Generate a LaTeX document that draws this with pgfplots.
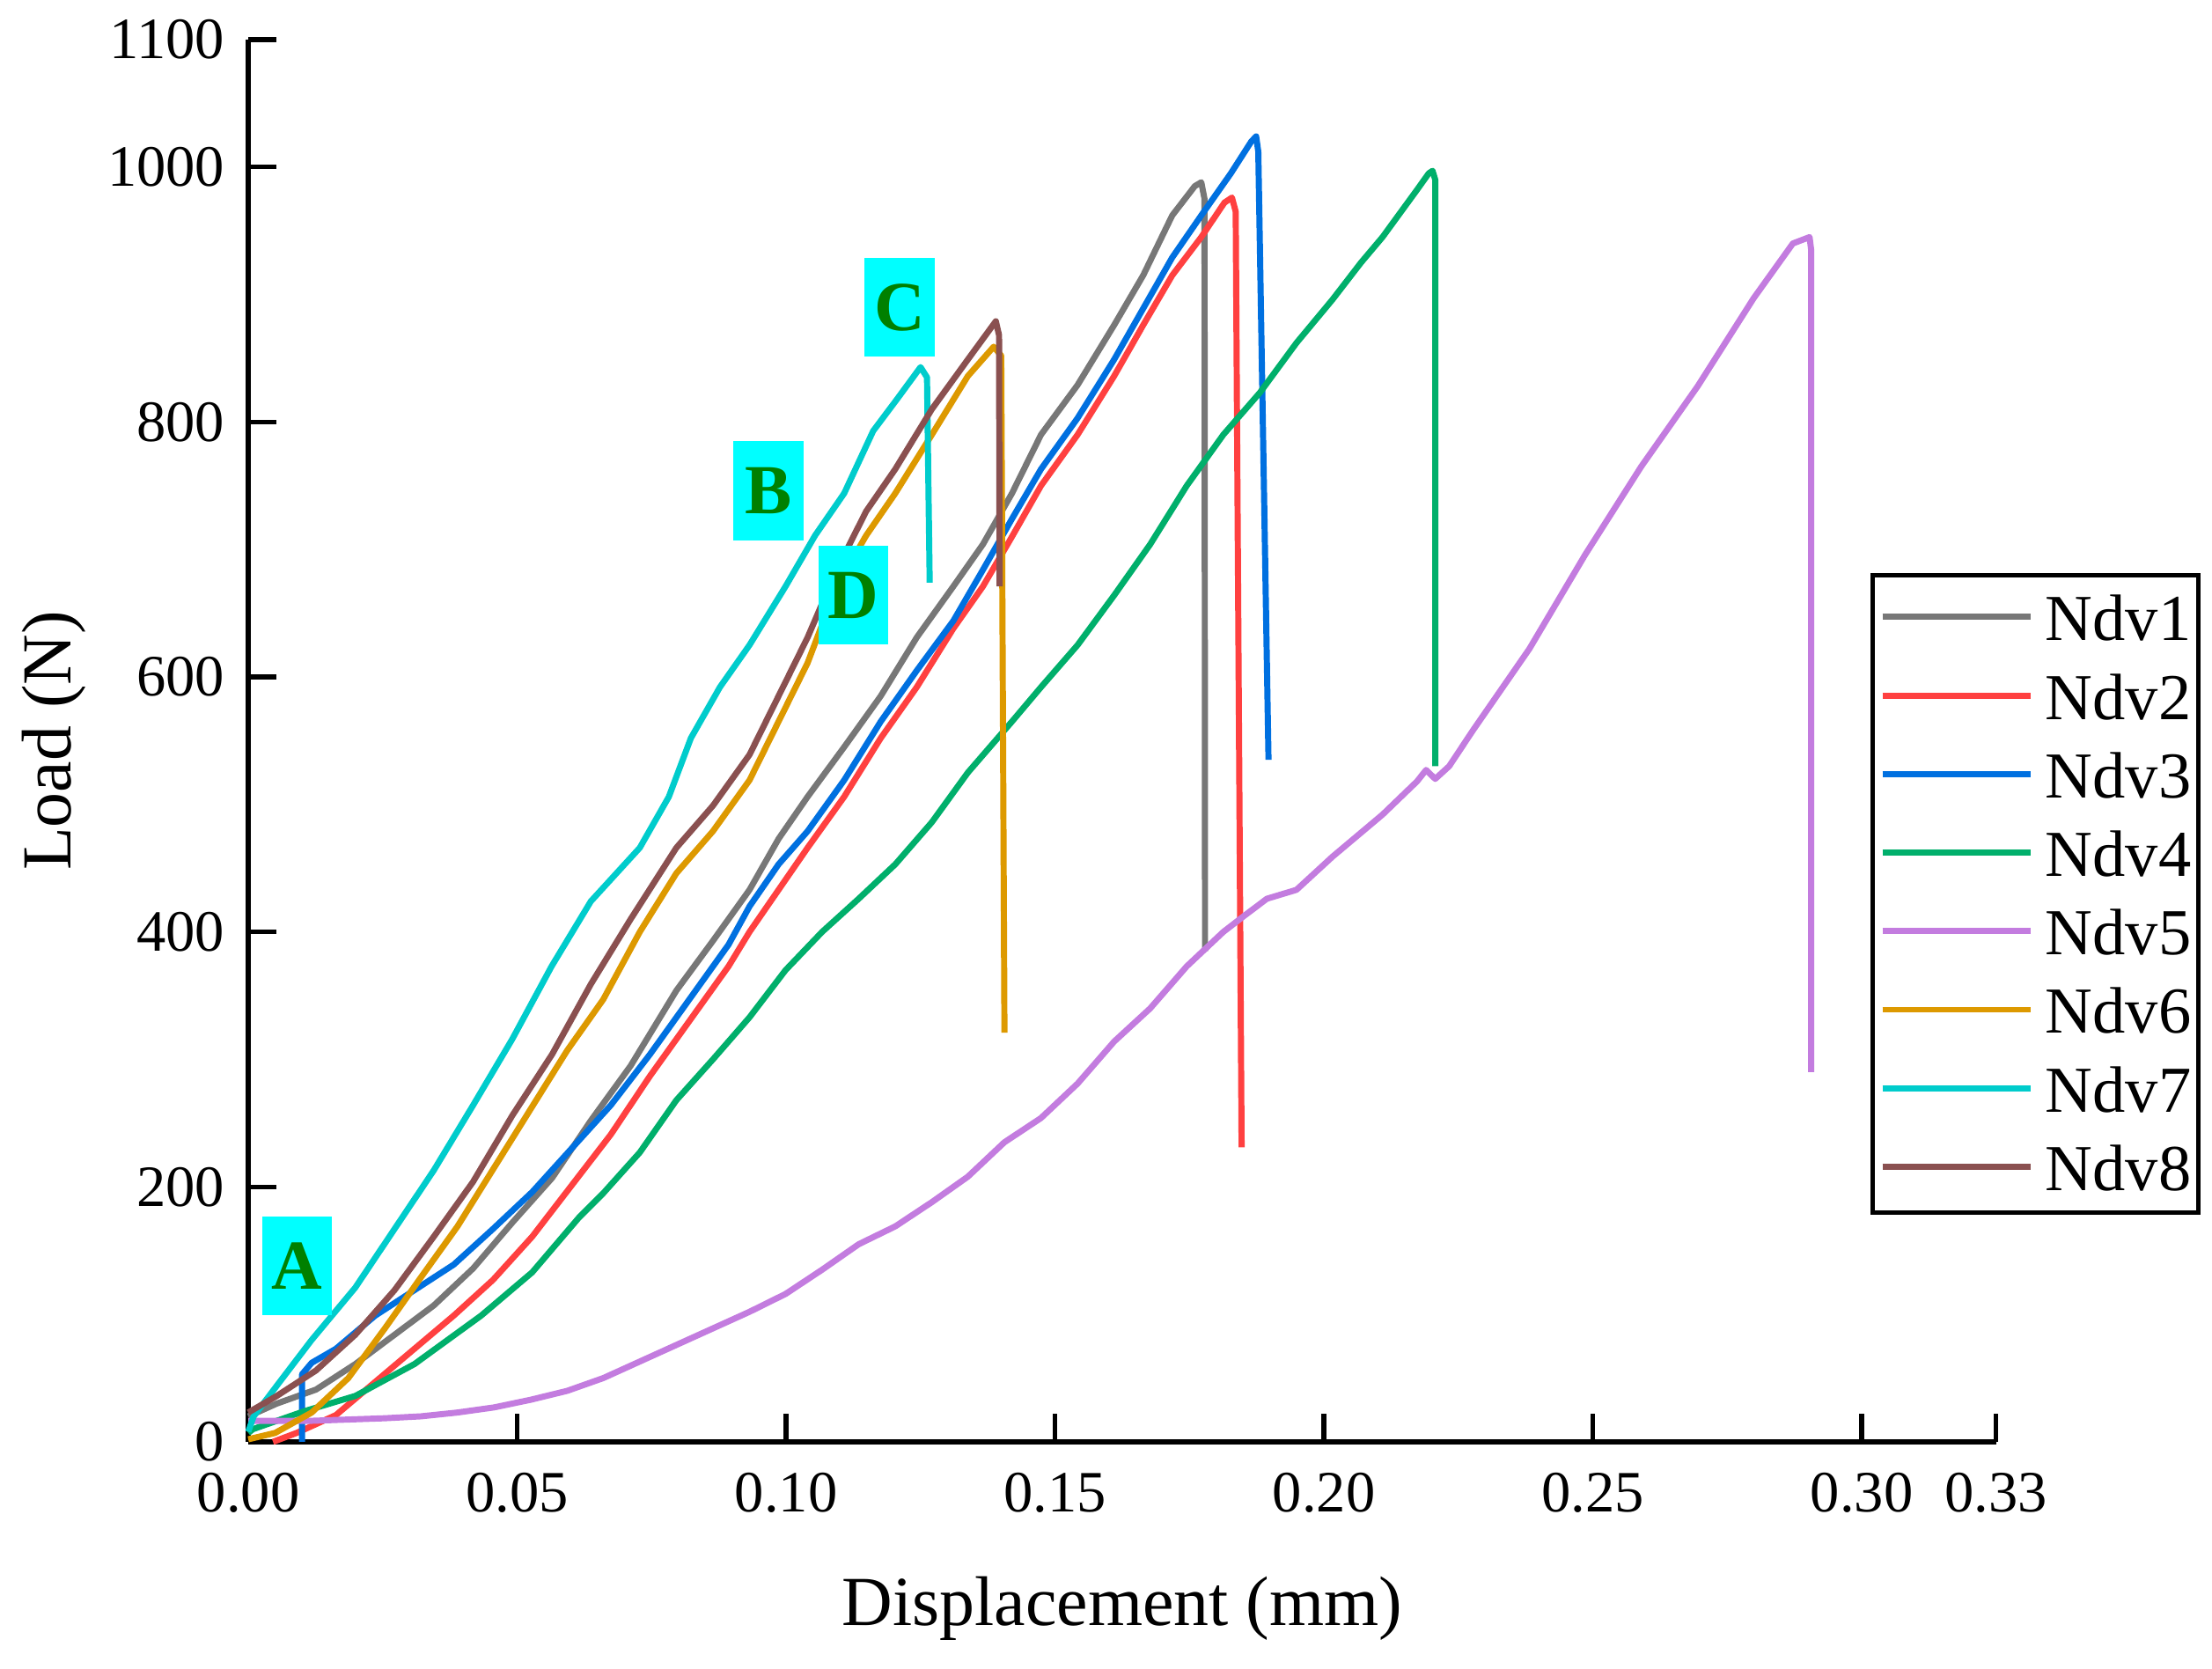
\documentclass[border=0pt]{standalone}
\usepackage{fontspec}
\setmainfont{Liberation Serif}
\usepackage{pgfplots}
\pgfplotsset{compat=1.18}
\definecolor{cgray}{HTML}{777777}
\definecolor{cred}{HTML}{FF4040}
\definecolor{cblue}{HTML}{0070E0}
\definecolor{cgreen}{HTML}{00AF6B}
\definecolor{cpurple}{HTML}{C37CDF}
\definecolor{corange}{HTML}{DD9900}
\definecolor{ccyan}{HTML}{00CCCC}
\definecolor{cbrown}{HTML}{8A5050}
\definecolor{boxcyan}{HTML}{00FFFF}
\definecolor{txtgreen}{HTML}{008000}
\begin{document}
\begin{tikzpicture}
\useasboundingbox (-52.8bp,-48.3bp) rectangle (417.6bp,306.6bp);
\begin{axis}[
  at={(0,0)}, anchor=south west,
  scale only axis, width=371.7bp, height=298.2bp,
  xmin=0, xmax=0.325, ymin=0, ymax=1100,
  axis x line=bottom, axis y line=left,
  axis line style={-, line width=1bp, black},
  tick align=inside, major tick length=6bp,
  tick style={line width=1bp, black},
  xtick={0,0.05,0.1,0.15,0.2,0.25,0.3,0.325},
  xticklabels={0.00,0.05,0.10,0.15,0.20,0.25,0.30,0.33},
  ytick={0,200,400,600,800,1000,1100},
  yticklabels={0,200,400,600,800,1000,1100},
  minor tick num=0,
  ticklabel style={font=\fontsize{12.5}{12.5}\selectfont},
  xticklabel style={yshift=-3bp},
  yticklabel style={xshift=-1.5bp},
  xlabel={Displacement (mm)},
  ylabel={Load (N)},
  x label style={at={(axis description cs:0.5,-0.119)}, anchor=center, font=\fontsize{15}{15}\selectfont},
  y label style={at={(axis description cs:-0.111,0.5)}, anchor=center, font=\fontsize{15}{15}\selectfont},
  every axis plot/.append style={line width=1.3bp, line join=round},
  legend cell align=left,
  legend style={
    at={(axis description cs:0.928,0.6197)}, anchor=north west,
    draw=black, line width=0.9bp, fill=white,
    inner xsep=1.5bp, inner ysep=1bp,
    font=\fontsize{14}{14}\selectfont,
    row sep=0pt, column sep=2.5bp,
    nodes={inner sep=0pt, text height=13bp, text depth=3.7bp},
  },
  legend image code/.code={\draw[#1, line width=1.3bp] (0bp,0.4bp) -- (31.5bp,0.4bp);},
  clip=false,
]
% Ndv1
\addplot[cgray] coordinates {
(0,20) (0.0053,30) (0.0126,41) (0.0199,61) (0.0272,84) (0.0345,107) (0.0418,136)
(0.0491,172) (0.0565,207) (0.0637,252) (0.0711,295) (0.0796,354) (0.0864,393)
(0.0932,433) (0.0986,473) (0.1040,506) (0.1108,545) (0.1176,585) (0.1243,631)
(0.1311,671) (0.1366,704) (0.1420,744) (0.1474,790) (0.1542,829) (0.1610,876)
(0.1664,915) (0.1718,962) (0.1760,985) (0.1772,988) (0.1778,975) (0.1779,385)
};
\addlegendentry{Ndv1}
% Ndv2
\addplot[cred] coordinates {
(0.0046,0) (0.0090,7) (0.0163,21) (0.0236,47) (0.0309,73) (0.0382,99) (0.0455,127)
(0.0528,161) (0.0601,201) (0.0674,241) (0.0747,287) (0.0820,330) (0.0893,373)
(0.0932,400) (0.0986,433) (0.1040,466) (0.1108,506) (0.1176,552) (0.1243,592)
(0.1311,638) (0.1366,671) (0.1420,710) (0.1474,750) (0.1542,790) (0.1610,836)
(0.1664,876) (0.1718,915) (0.1772,945) (0.1815,972) (0.1829,976) (0.1836,965) (0.1847,231)
};
\addlegendentry{Ndv2}
% Ndv3
\addplot[cblue] coordinates {
(0.0100,0) (0.0100,53) (0.0118,62) (0.0163,73) (0.0236,99) (0.0309,119) (0.0382,139)
(0.0455,167) (0.0528,196) (0.0601,230) (0.0674,264) (0.0747,304) (0.0820,347)
(0.0893,390) (0.0932,420) (0.0986,453) (0.1040,479) (0.1108,519) (0.1176,565)
(0.1243,605) (0.1311,644) (0.1366,684) (0.1420,724) (0.1474,763) (0.1542,803)
(0.1610,849) (0.1664,889) (0.1718,929) (0.1772,962) (0.1827,995) (0.1865,1020)
(0.1874,1024) (0.1878,1012) (0.1897,535)
};
\addlegendentry{Ndv3}
% Ndv4
\addplot[cgreen] coordinates {
(0,7) (0.0009,10) (0.0104,24) (0.0199,36) (0.0309,61) (0.0433,99) (0.0528,133)
(0.0615,176) (0.0660,195) (0.0728,227) (0.0796,268) (0.0864,300) (0.0932,333)
(0.0999,370) (0.1067,400) (0.1135,426) (0.1203,453) (0.1271,486) (0.1338,525)
(0.1420,565) (0.1474,592) (0.1542,625) (0.1610,664) (0.1677,704) (0.1745,750)
(0.1813,790) (0.1881,823) (0.1949,862) (0.2016,896) (0.2069,925) (0.2109,945)
(0.2173,982) (0.2195,995) (0.2202,997) (0.2207,990) (0.2207,530)
};
\addlegendentry{Ndv4}
% Ndv5
\addplot[cpurple] coordinates {
(0,16.5) (0.0118,16.5) (0.0254,18.5) (0.0321,20) (0.0389,23) (0.0457,27) (0.0525,33)
(0.0593,40) (0.0660,50) (0.0728,63) (0.0796,76) (0.0864,89) (0.0932,102) (0.0999,116)
(0.1067,135) (0.1135,155) (0.1203,169) (0.1271,188) (0.1338,208) (0.1406,235)
(0.1474,254) (0.1542,281) (0.1610,314) (0.1677,340) (0.1745,373) (0.1813,400)
(0.1853,413) (0.1894,426) (0.1949,433) (0.2016,459) (0.2109,492) (0.2173,518)
(0.2190,527) (0.2207,520) (0.2233,530) (0.2277,558) (0.2382,622) (0.2486,696)
(0.2590,765) (0.2695,828) (0.2799,897) (0.2872,940) (0.2903,945) (0.2906,935) (0.2906,290)
};
\addlegendentry{Ndv5}
% Ndv6
\addplot[corange] coordinates {
(0,2) (0.0050,7) (0.0118,23) (0.0186,50) (0.0254,89) (0.0321,129) (0.0389,169)
(0.0457,215) (0.0525,261) (0.0593,307) (0.0660,347) (0.0728,400) (0.0796,446)
(0.0864,479) (0.0932,519) (0.0986,565) (0.1040,611) (0.1094,671) (0.1149,711)
(0.1203,744) (0.1271,790) (0.1338,836) (0.1386,859) (0.1400,852) (0.1406,321)
};
\addlegendentry{Ndv6}
% Ndv7
\addplot[ccyan] coordinates {
(0,8) (0.0010,20) (0.0053,44) (0.0118,80) (0.0199,121) (0.0272,167) (0.0345,213)
(0.0418,264) (0.0491,316) (0.0564,373) (0.0637,424) (0.0728,466) (0.0782,506)
(0.0823,552) (0.0877,592) (0.0932,625) (0.0999,671) (0.1054,711) (0.1108,744)
(0.1162,793) (0.1203,816) (0.1250,843) (0.1262,835) (0.1267,674)
};
\addlegendentry{Ndv7}
% Ndv8
\addplot[cbrown] coordinates {
(0,23) (0.0053,36) (0.0126,56) (0.0199,84) (0.0272,119) (0.0345,161) (0.0418,204)
(0.0491,256) (0.0565,304) (0.0637,359) (0.0711,410) (0.0796,466) (0.0864,499)
(0.0932,539) (0.0986,585) (0.1040,631) (0.1094,684) (0.1149,730) (0.1203,763)
(0.1271,810) (0.1338,849) (0.1390,879) (0.1396,868) (0.1397,671)
};
\addlegendentry{Ndv8}
\tikzset{lbl/.style={fill=boxcyan, text=txtgreen, inner sep=0pt, minimum width=14.85bp, minimum height=21bp, font=\fontsize{15}{15}\selectfont\bfseries}}
\node[lbl] at (axis cs:0.0091,138) {A};
\node[lbl] at (axis cs:0.0967,746) {B};
\node[lbl] at (axis cs:0.1211,890) {C};
\node[lbl] at (axis cs:0.1125,664) {D};
\end{axis}
\end{tikzpicture}
\end{document}
